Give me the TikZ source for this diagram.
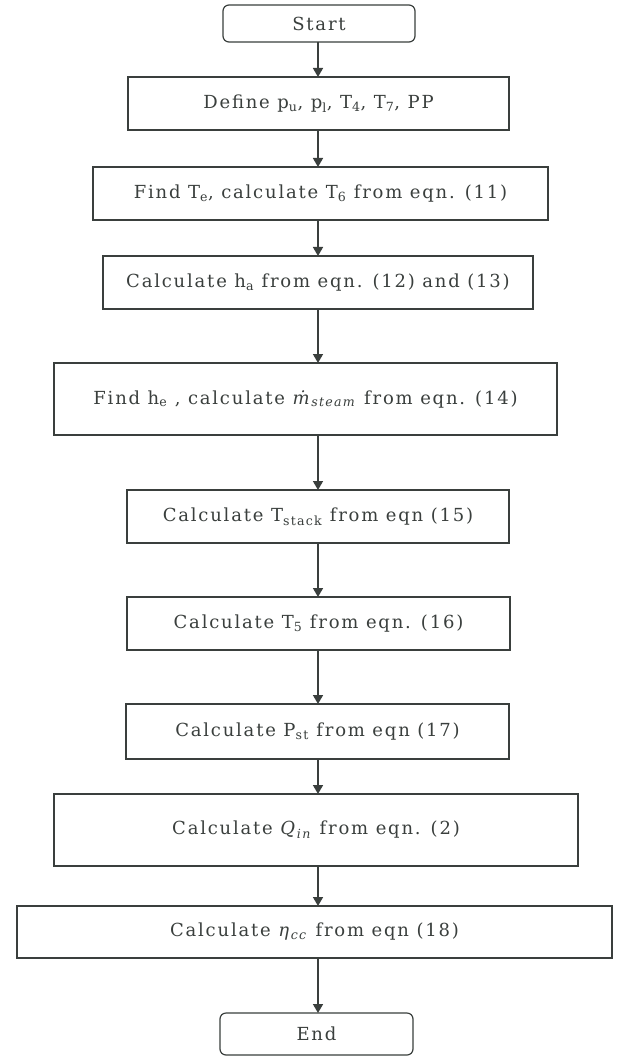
\documentclass[tikz,border=0pt]{standalone}
\usepackage{fontspec}
\setmainfont{DejaVu Serif}[LetterSpace=10]
\usetikzlibrary{arrows.meta}
\definecolor{ink}{HTML}{3A3F3D}
\begin{document}
\begin{tikzpicture}[x=1pt,y=-1pt,
  every node/.style={inner sep=0pt, outer sep=0pt, text=ink, font=\fontsize{18}{22}\selectfont},
  procbox/.style={draw=ink, line width=1.2pt, rectangle},
  termbox/.style={draw=ink, line width=1.2pt, rectangle, rounded corners=6pt},
  flow/.style={draw=ink, line width=1.6pt, -{Triangle[width=10pt,length=9pt]}}]
\useasboundingbox (0,0) rectangle (616,1064);
\fill[white] (0,0) rectangle (616,1064);

\node[termbox, minimum width=192pt, minimum height=37pt] (start) at (319,23.5) {Start};
\node[procbox, minimum width=381pt, minimum height=53pt] (define) at (318.5,103.5)
  {Define p\textsubscript{u}, p\textsubscript{l}, T\textsubscript{4}, T\textsubscript{7}, PP};
\node[procbox, minimum width=455pt, minimum height=53pt] (findte) at (320.5,193.5)
  {Find T\textsubscript{e}, calculate T\textsubscript{6} from eqn. (11)};
\node[procbox, minimum width=430pt, minimum height=53pt] (calcha) at (318,282.5)
  {Calculate h\textsubscript{a} from eqn. (12) and (13)};
\node[procbox, minimum width=503pt, minimum height=72pt] (findhe) at (305.5,399)
  {Find h\textsubscript{e} , calculate \textit{ṁ}\textsubscript{\textit{steam}} from eqn. (14)};
\node[procbox, minimum width=382pt, minimum height=53pt] (tstack) at (318,516.5)
  {Calculate T\textsubscript{stack} from eqn (15)};
\node[procbox, minimum width=383pt, minimum height=53pt] (tfive) at (318.5,623.5)
  {Calculate T\textsubscript{5} from eqn. (16)};
\node[procbox, minimum width=383pt, minimum height=55pt] (pst) at (317.5,731.5)
  {Calculate P\textsubscript{st} from eqn (17)};
\node[procbox, minimum width=524pt, minimum height=72pt] (qin) at (316,830)
  {Calculate \textit{Q}\textsubscript{\textit{in}} from eqn. (2)};
\node[procbox, minimum width=595pt, minimum height=52pt] (eta) at (314.5,932)
  {Calculate \textit{η}\textsubscript{\textit{cc}} from eqn (18)};
\node[termbox, minimum width=193pt, minimum height=42pt] (finish) at (316.5,1034) {End};

\coordinate (axis) at (318,0);
\foreach \a/\b in {start/define, define/findte, findte/calcha, calcha/findhe,
                   findhe/tstack, tstack/tfive, tfive/pst, pst/qin, qin/eta, eta/finish}
  \draw[flow] (axis |- \a.south) -- (axis |- \b.north);
\end{tikzpicture}
\end{document}
